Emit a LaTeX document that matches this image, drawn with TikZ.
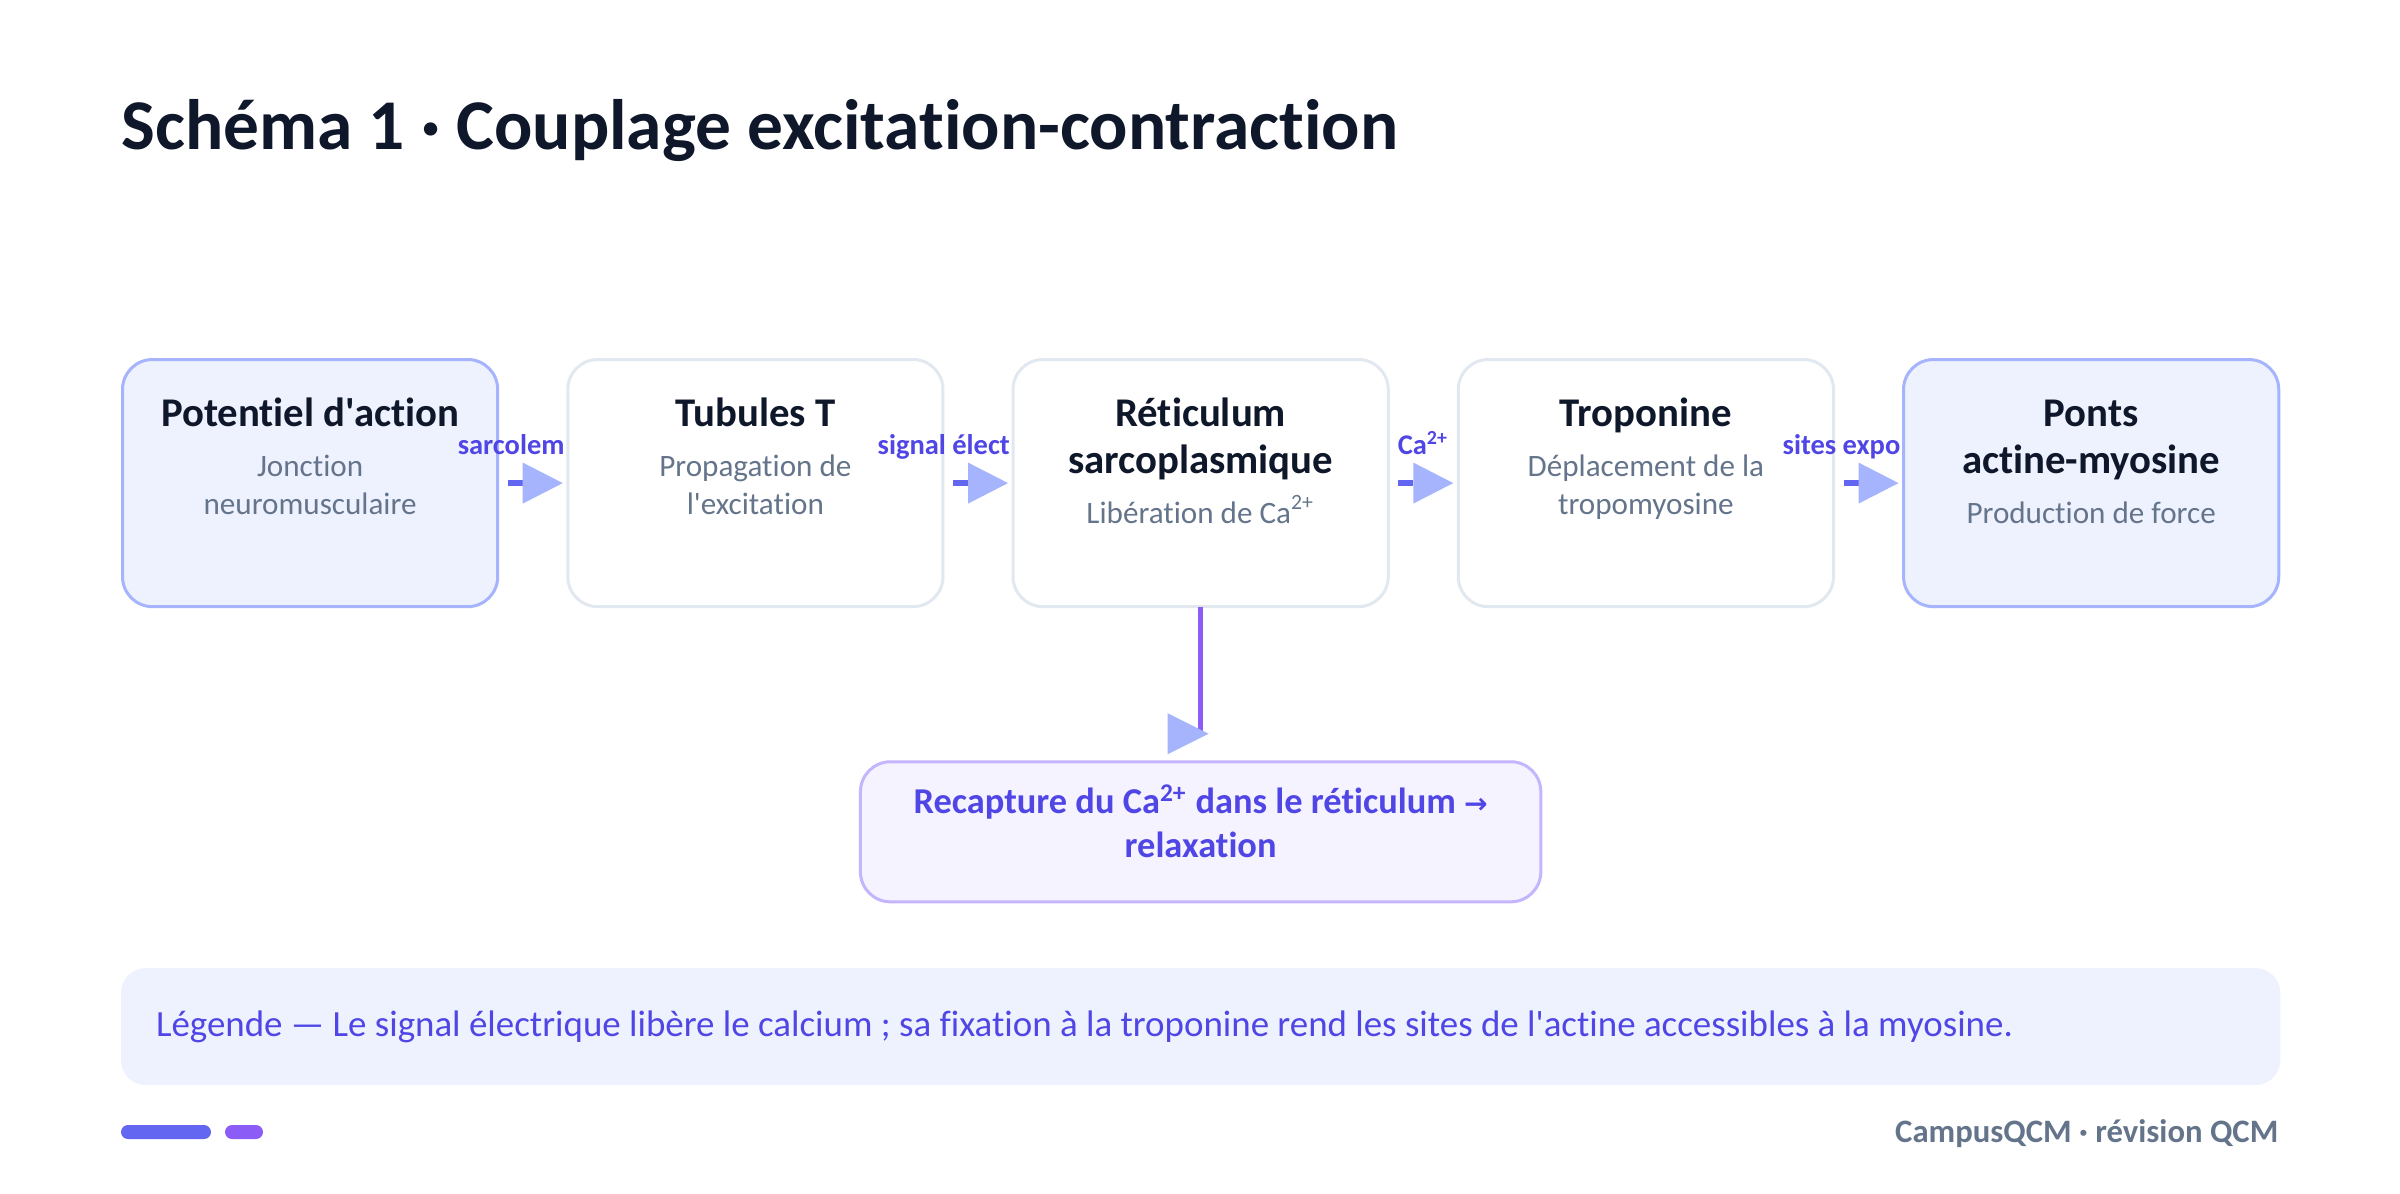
\documentclass[tikz,border=0pt]{standalone}
\usepackage{fontspec}
\setmainfont{Carlito}[Ligatures={TeXOff,NoCommon}]
\newfontfamily\arrowfont{DejaVu Sans}
\usetikzlibrary{positioning,arrows.meta}

\definecolor{ink}{HTML}{0F172A}
\definecolor{slate}{HTML}{64748B}
\definecolor{indigo}{HTML}{4F46E5}
\definecolor{indigoline}{HTML}{6366F1}
\definecolor{violetline}{HTML}{8B5CF6}
\definecolor{periwinkle}{HTML}{A5B4FC}
\definecolor{paleblue}{HTML}{EEF2FF}
\definecolor{palegray}{HTML}{E2E8F0}
\definecolor{paleviolet}{HTML}{F5F3FF}
\definecolor{lilac}{HTML}{C4B5FD}

\newcommand{\steptitle}{\fontsize{11.6}{13.4}\selectfont\bfseries}
\newcommand{\stepnote}[1]{\par\vspace{3.3pt}{\fontsize{8.85}{10.8}\selectfont\mdseries\color{slate}#1\par}}
\newcommand{\flowfont}{\fontsize{8.1}{9.7}\selectfont\bfseries}

\begin{document}
\begin{tikzpicture}[x=0.01cm, y=-0.01cm,
		stepbox/.style={rectangle, rounded corners=3mm, draw=palegray, line width=0.3mm, fill=white, outer sep=0pt, minimum width=37.5mm, text width=33.7mm, inner xsep=1.9mm, inner ysep=2mm, text height=4.7mm, text depth=16mm, align=flush center, font=\steptitle, text=ink},
		keybox/.style={stepbox, draw=periwinkle, fill=paleblue},
		flow/.style={draw=indigoline, line width=0.65mm, -{Triangle[length=4mm, width=4.1mm, line width=0pt, color=periwinkle]}, shorten <=1mm, shorten >=0.5mm},
		flowlabel/.style={font=\flowfont, text=indigo, inner sep=0pt, yshift=2.9mm},
		returnflow/.style={draw=violetline, line width=0.55mm},
		recapbox/.style={rectangle, rounded corners=3mm, draw=lilac, line width=0.3mm, fill=paleviolet, outer sep=0pt, minimum width=68mm, text width=64mm, inner xsep=2mm, inner ysep=2mm, text height=3.2mm, text depth=6.8mm, align=flush center, text=indigo, font=\fontsize{10.35}{12.4}\selectfont\bfseries},
		legendbox/.style={rectangle, rounded corners=2.5mm, fill=paleblue, outer sep=0pt, text width=208.8mm, inner xsep=3.5mm, minimum height=11.7mm, align=flush left, text=indigo, font=\fontsize{10.5}{12.4}\selectfont}
	]
	\useasboundingbox[fill=white] (0,0) rectangle (2400,1193);

	\node[anchor=base west, inner sep=0pt, text=ink, font=\fontsize{20.3}{24}\selectfont\bfseries] (titre) at (121,149) {Schéma 1 · Couplage excitation-contraction};

	% etapes
	\node[keybox, anchor=north west] (potentiel) at (122.5,359.5) {Potentiel d'action\stepnote{Jonction\\neuromusculaire}};
	\node[stepbox] (tubules) [right=7mm of potentiel] {Tubules T\stepnote{Propagation de\\l'excitation}};
	\node[stepbox] (reticulum) [right=7mm of tubules] {Réticulum\\sarcoplasmique\stepnote{Libération de Ca\textsuperscript{2+}}};
	\node[stepbox] (troponine) [right=7mm of reticulum] {Troponine\stepnote{Déplacement de la\\tropomyosine}};
	\node[keybox] (ponts) [right=7mm of troponine] {Ponts\\actine-myosine\stepnote{Production de force}};
	\node[recapbox] (recapture) [below=15.5mm of reticulum] {Recapture du Ca\textsuperscript{2+} dans le réticulum {\arrowfont\fontsize{8}{9}\selectfont →}\\relaxation};

	\begin{scope}[flow]
	\draw (potentiel) -- (tubules) node[flowlabel, pos=1, anchor=base east] {sarcolem};
	\draw (tubules) -- (reticulum) node[flowlabel, pos=1, anchor=base east] {signal élect};
	\draw (reticulum) -- (troponine) node[flowlabel, midway, anchor=base] {Ca\textsuperscript{2+}};
	\draw (troponine) -- (ponts) node[flowlabel, pos=1, anchor=base east] {sites expo};
	\end{scope}

	% retour
	\coordinate (retourfin) at ([yshift=2.8mm]recapture.north);
	\draw[returnflow] (reticulum) -- (retourfin);
	\fill[periwinkle] ([xshift=0.8mm]retourfin) -- ++(-41,-20.5) -- ++(0,41) -- cycle;

	% legende et pied
	\node[legendbox, anchor=north west] (legende) at (121,968) {Légende — Le signal électrique libère le calcium ; sa fixation à la troponine rend les sites de l'actine accessibles à la myosine.};
	\fill[indigoline, rounded corners=0.7mm] (121,1125) rectangle (211,1139);
	\fill[violetline, rounded corners=0.7mm] (225,1125) rectangle (263,1139);
	\node[anchor=base east, inner sep=0pt, text=slate, font=\fontsize{9.3}{11}\selectfont\bfseries] (signature) at (2279,1142) {CampusQCM · révision QCM};
\end{tikzpicture}
\end{document}
